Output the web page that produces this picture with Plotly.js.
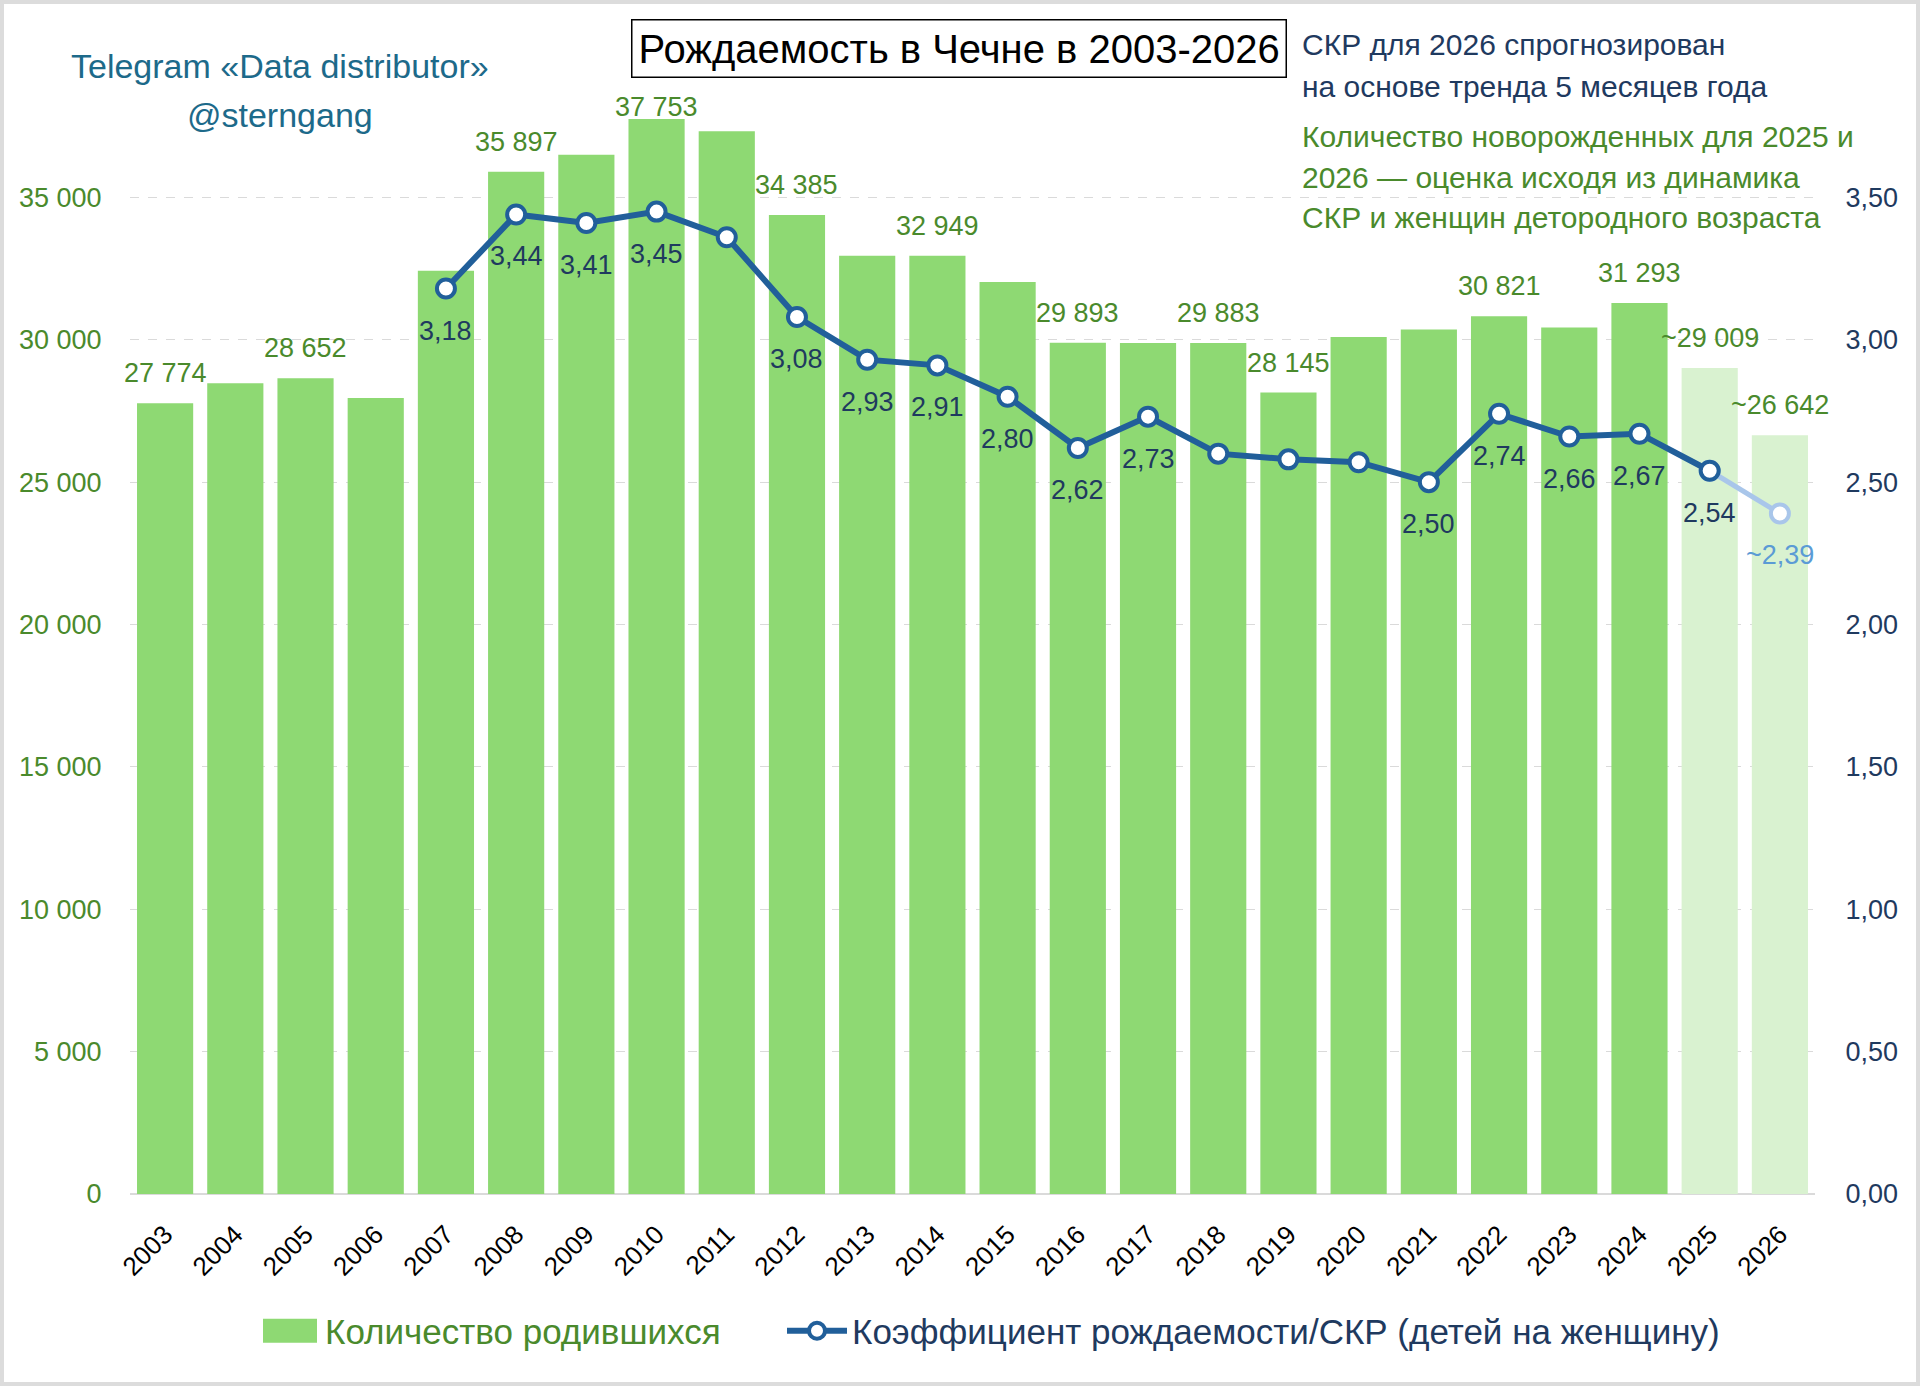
<!DOCTYPE html>
<html>
<head>
<meta charset="utf-8">
<script src="https://cdn.plot.ly/plotly-3.0.1.min.js"></script>
<style>
  html, body { margin:0; padding:0; background:#ffffff; }
  #wrap { position:relative; width:1920px; height:1386px; }
  #chart { width:1920px; height:1386px; }
  #frame { position:absolute; left:0; top:0; width:1920px; height:1386px; box-sizing:border-box;
           border:4px solid #dcdcdc; pointer-events:none; }
</style>
</head>
<body>
<div id="wrap"><div id="chart"></div><div id="frame"></div></div>
<script>
// ---------- DATA ----------
const years = ['2003','2004','2005','2006','2007','2008','2009','2010','2011','2012','2013','2014',
               '2015','2016','2017','2018','2019','2020','2021','2022','2023','2024','2025','2026'];
const births = [27774, 28470, 28652, 27950, 32420, 35897, 36500, 37753, 37320, 34385, 32950, 32949,
                32030, 29893, 29890, 29883, 28145, 30100, 30360, 30821, 30430, 31293, 29009, 26642];
const birthLabels = ['27 774','','28 652','','','35 897','','37 753','','34 385','','32 949',
                     '','29 893','','29 883','28 145','','','30 821','','31 293','~29 009','~26 642'];
const tfr = [null, null, null, null, 3.18, 3.44, 3.41, 3.45, 3.36, 3.08, 2.93, 2.91,
             2.80, 2.62, 2.73, 2.60, 2.58, 2.57, 2.50, 2.74, 2.66, 2.67, 2.54, 2.39];
const tfrLabels = ['','','','','3,18','3,44','3,41','3,45','','3,08','2,93','2,91',
                   '2,80','2,62','2,73','','','','2,50','2,74','2,66','2,67','2,54','~2,39'];
const isEstimate = [false,false,false,false,false,false,false,false,false,false,false,false,
                    false,false,false,false,false,false,false,false,false,false,true,true];
const leftTicks = [0, 5000, 10000, 15000, 20000, 25000, 30000, 35000];
const rightTicks = [0, 0.5, 1, 1.5, 2, 2.5, 3, 3.5];

const titleText = 'Рождаемость в Чечне в 2003-2026';
const sourceLines = ['Telegram «Data distributor»', '@sterngang'];
const noteBlue = ['СКР для 2026 спрогнозирован', 'на основе тренда 5 месяцев года'];
const noteGreen = ['Количество новорожденных для 2025 и', '2026 — оценка исходя из динамика',
                   'СКР и женщин детородного возраста'];
const barName = 'Количество родившихся';
const lineName = 'Коэффициент рождаемости/СКР (детей на женщину)';

// ---------- STYLE ----------
const FONT = 'Liberation Sans, Arial, sans-serif';
const GREEN_TXT = '#4a8a2c';
const NAVY_TXT = '#1f3a5f';
const BAR = '#8ed973', BAR_EST = '#d9f2d0';
const LINE = '#215f9a', LINE_EST = '#a9c6ea';
const M = {l:130, r:105, t:55, b:192};
const W = 1920, H = 1386;
const PW = W - M.l - M.r, PH = H - M.t - M.b;
const px = x => (x - M.l) / PW;
const py = y => (H - M.b - y) / PH;
const YMAX = 40000;
const LABEL_TOP_LIMIT = 107;   // data labels are kept below this pixel row

const nMain = years.length - 1;   // line up to 2025 in main colour
const traces = [
  {
    type:'bar', x:years, y:births, name:'<span style="color:'+GREEN_TXT+'">'+barName+'</span>',
    marker:{color: isEstimate.map(e => e ? BAR_EST : BAR)},
    hoverinfo:'skip', yaxis:'y', showlegend:true, legend:'legend'
  },
  {
    type:'scatter', mode:'lines+markers', x:years.slice(nMain-1), y:tfr.slice(nMain-1),
    yaxis:'y2', showlegend:false, hoverinfo:'skip',
    line:{color:LINE_EST, width:5},
    marker:{size:18, color:'#ffffff', line:{color:LINE_EST, width:4}}
  },
  {
    type:'scatter', mode:'lines+markers', x:years.slice(0, nMain), y:tfr.slice(0, nMain),
    yaxis:'y2', name:'<span style="color:'+NAVY_TXT+'">'+lineName+'</span>', hoverinfo:'skip',
    line:{color:LINE, width:6}, connectgaps:false, legend:'legend2',
    marker:{size:18, color:'#ffffff', line:{color:LINE, width:4}}
  }
];

const annotations = [];
years.forEach((yr, i) => {
  if (birthLabels[i]) {
    const topPx = M.t + PH * (1 - births[i] / YMAX);
    const shift = Math.min(30, topPx - LABEL_TOP_LIMIT);
    annotations.push({
      x: i, y: births[i], xref:'x', yref:'y', xanchor:'center', yanchor:'middle', yshift: shift, showarrow:false,
      text: birthLabels[i], font:{family:FONT, size:27, color:GREEN_TXT}
    });
  }
  if (tfrLabels[i]) annotations.push({
    x: i, y: tfr[i], xref:'x', yref:'y2', xanchor:'center', yanchor:'middle', yshift: -42, showarrow:false,
    text: tfrLabels[i], font:{family:FONT, size:27, color: isEstimate[i] && i === years.length-1 ? '#5b9bd5' : NAVY_TXT}
  });
});
annotations.push({
  x: px(959), y: py(49), xref:'paper', yref:'paper', xanchor:'center', yanchor:'middle', showarrow:false, text:titleText,
  font:{family:FONT, size:40, color:'#000000'}, bordercolor:'#000000', borderwidth:1.5,
  borderpad:6, bgcolor:'#ffffff'
});
sourceLines.forEach((t, k) => annotations.push({
  x: px(280), y: py([66,115][k]), xref:'paper', yref:'paper', xanchor:'center', yanchor:'middle', showarrow:false, text:t,
  font:{family:FONT, size:34, color:'#1d6a8a'}
}));
noteBlue.forEach((t, k) => annotations.push({
  x: px(1300), y: py([45,87][k]), xref:'paper', yref:'paper', xanchor:'left', yanchor:'middle', showarrow:false, text:t,
  font:{family:FONT, size:30, color:NAVY_TXT}
}));
noteGreen.forEach((t, k) => annotations.push({
  x: px(1300), y: py([136,177,218][k]), xref:'paper', yref:'paper', xanchor:'left', yanchor:'middle', showarrow:false, text:t,
  font:{family:FONT, size:30, color:GREEN_TXT}
}));

const legendBase = {orientation:'h', yanchor:'middle', y: py(1331), xanchor:'left',
                    font:{family:FONT, size:35}, itemwidth:60, bgcolor:'rgba(0,0,0,0)'};

const layout = {
  width: W, height: H, margin: M,
  paper_bgcolor:'#ffffff', plot_bgcolor:'#ffffff',
  separators: ', ',
  font:{family:FONT, size:26, color:'#000000'},
  bargap: 0.2,
  xaxis:{type:'category', tickangle:-45, tickfont:{family:FONT, size:26, color:'#000000'},
         ticks:'outside', ticklen:14, tickcolor:'rgba(0,0,0,0)', showline:false, showgrid:false,
         range:[-0.5, years.length-0.5]},
  yaxis:{range:[0, YMAX], tickvals:leftTicks, tickformat:',d', tickfont:{family:FONT, size:27, color:GREEN_TXT},
         showgrid:true, gridcolor:'#dadada', griddash:'dash', gridwidth:1.2,
         zeroline:true, zerolinecolor:'#dadada', zerolinewidth:1.2,
         ticks:'outside', ticklen:22, tickcolor:'rgba(0,0,0,0)', showline:false},
  yaxis2:{overlaying:'y', side:'right', range:[0, 4], tickvals:rightTicks, tickformat:'.2f',
          tickfont:{family:FONT, size:27, color:NAVY_TXT}, showgrid:false, zeroline:false,
          ticks:'outside', ticklen:24, tickcolor:'rgba(0,0,0,0)', showline:false},
  legend: Object.assign({}, legendBase, {x: px(255)}),
  legend2: Object.assign({}, legendBase, {x: px(782)}),
  annotations: annotations,
  showlegend:true
};

Plotly.newPlot('chart', traces, layout, {staticPlot:true}).then(gd => {
  // widen the bar legend swatch to a block like the original
  gd.querySelectorAll('.legend .legendpoints path').forEach(p => {
    const d = (p.getAttribute('d') || '').replace(/\s/g, '');
    if (d === 'M6,6H-6V-6H6Z' || p.classList.contains('legendbar')) {
      p.setAttribute('d', 'M27,12H-27V-12H27Z');
    }
  });
});
</script>
</body>
</html>
